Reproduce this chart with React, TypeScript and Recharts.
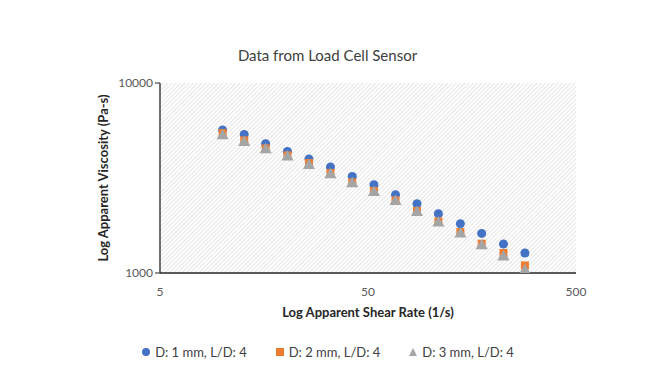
import React from "react";
import { ScatterChart, Scatter, XAxis, YAxis, ZAxis, CartesianGrid, Label } from "recharts";

const shearRate = [10, 12.7, 16.1, 20.5, 26, 33, 42, 53.4, 67.8, 86, 109, 139, 176, 224, 284];
const viscosity1mm = [5655, 5363, 4792, 4365, 3981, 3613, 3222, 2915, 2582, 2315, 2052, 1817, 1616, 1421, 1274];
const viscosity2mm = [5454, 4989, 4528, 4159, 3793, 3360, 2999, 2702, 2411, 2119, 1868, 1643, 1426, 1274, 1096];
const viscosity3mm = [5280, 4868, 4457, 4078, 3684, 3291, 2951, 2656, 2381, 2084, 1834, 1604, 1392, 1214, 1028];

const xTicks = [5, 50, 500];
const yTicks = [1000, 10000];

const series = [
  { name: "D: 1 mm, L/D: 4", values: viscosity1mm, color: "#4472C4", shape: "circle" },
  { name: "D: 2 mm, L/D: 4", values: viscosity2mm, color: "#ED7D31", shape: "square" },
  { name: "D: 3 mm, L/D: 4", values: viscosity3mm, color: "#A5A5A5", shape: "triangle" },
];

const toPoints = (values: number[]) => shearRate.map((x, i) => ({ x, y: values[i] }));

const FONT = "Lato, 'Open Sans', sans-serif";

const LegendContent = () => (
  <div style={{ display: "flex", justifyContent: "center", gap: 28, fontFamily: FONT, fontSize: 13, color: "#404040" }}>
    {series.map((s) => (
      <div key={s.name} style={{ display: "flex", alignItems: "center" }}>
        <svg width={10} height={10} style={{ marginRight: 4 }}>
          {s.shape === "circle" && <circle cx={5} cy={5} r={4} fill={s.color} />}
          {s.shape === "square" && <rect x={1} y={1} width={8} height={8} fill={s.color} />}
          {s.shape === "triangle" && <polygon points="5,1 9,9 1,9" fill={s.color} />}
        </svg>
        <span>{s.name}</span>
      </div>
    ))}
  </div>
);

const YTitle = ({ viewBox }: any) => {
  const cx = viewBox.x + 8;
  const cy = viewBox.y + viewBox.height / 2;
  return (
    <text x={cx} y={cy} transform={`rotate(-90 ${cx} ${cy})`} textAnchor="middle" dominantBaseline="central"
      fontFamily={FONT} fontSize={13} fontWeight="bold" fill="#262626">
      Log Apparent Viscosity (Pa-s)
    </text>
  );
};

export default function App() {
  return (
    <div style={{ position: "absolute", left: 0, top: 0, width: 655, height: 385, background: "#fff" }}>
      <svg width={0} height={0} style={{ position: "absolute" }}>
        <defs>
          <pattern id="hatch" width={3} height={3} patternUnits="userSpaceOnUse" patternTransform="rotate(45)">
            <rect width={3} height={3} fill="#ffffff" />
            <line x1={0} y1={0} x2={0} y2={3} stroke="#d4d4d4" strokeWidth={1.2} />
          </pattern>
        </defs>
      </svg>
      <div style={{ position: "absolute", left: 0, top: 46, width: 655, textAlign: "center", fontFamily: FONT, fontSize: 15, color: "#404040" }}>
        Data from Load Cell Sensor
      </div>
      <ScatterChart width={655} height={385} margin={{ top: 83, right: 79, bottom: 62, left: 95 }}>
        <CartesianGrid fill="url(#hatch)" horizontal={false} vertical={false} />
        <XAxis
          type="number"
          dataKey="x"
          scale="log"
          domain={[5, 500]}
          ticks={xTicks}
          allowDataOverflow
          axisLine={{ stroke: "#262626", strokeWidth: 1.3 }}
          tickLine={false}
          tickMargin={8}
          tick={{ fill: "#595959", fontSize: 12, fontFamily: FONT }}
          height={50}
        >
          <Label value="Log Apparent Shear Rate (1/s)" position="insideBottom" offset={6}
            style={{ fontFamily: FONT, fontSize: 13, fontWeight: "bold", fill: "#262626" }} />
        </XAxis>
        <XAxis xAxisId="top" orientation="top" type="number" domain={[0, 1]} tick={false} tickLine={false}
          axisLine={{ stroke: "#262626", strokeWidth: 1.3 }} height={0} />
        <YAxis
          type="number"
          dataKey="y"
          scale="log"
          domain={[1000, 10000]}
          ticks={yTicks}
          allowDataOverflow
          axisLine={{ stroke: "#262626", strokeWidth: 1.3 }}
          tickLine={{ stroke: "#262626" }}
          tickSize={5}
          tick={{ fill: "#595959", fontSize: 12, fontFamily: FONT }}
          width={65}
        >
          <Label content={<YTitle />} />
        </YAxis>
        <YAxis yAxisId="right" orientation="right" type="number" domain={[0, 1]} tick={false} tickLine={false}
          axisLine={{ stroke: "#262626", strokeWidth: 1.3 }} width={0} />
        <ZAxis range={[60, 60]} />
        {series.map((s) => (
          <Scatter key={s.name} name={s.name} data={toPoints(s.values)} fill={s.color} shape={s.shape as any}
            isAnimationActive={false} />
        ))}
      </ScatterChart>
      <div style={{ position: "absolute", left: 0, top: 344, width: 655 }}>
        <LegendContent />
      </div>
    </div>
  );
}
